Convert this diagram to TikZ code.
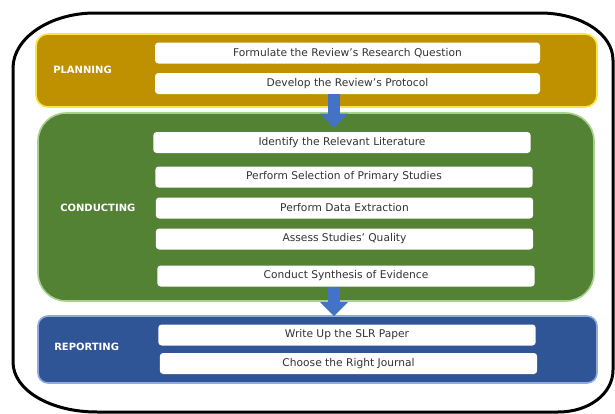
\documentclass[tikz,border=0pt]{standalone}
\usepackage{fontspec}
\setmainfont{DejaVu Sans}
\usetikzlibrary{arrows.meta}
\definecolor{planGold}{RGB}{191,144,0}
\definecolor{planGlow}{RGB}{250,228,70}
\definecolor{condGreen}{RGB}{84,130,53}
\definecolor{condGlow}{RGB}{169,209,142}
\definecolor{repBlue}{RGB}{47,85,151}
\definecolor{repGlow}{RGB}{143,170,220}
\definecolor{flowBlue}{RGB}{68,114,196}
\definecolor{taskText}{RGB}{51,51,51}

\begin{document}
\begin{tikzpicture}[x=0.75pt,y=0.75pt,yscale=-1,xscale=1,
    phase/.style={line width=1.2pt, inner sep=0pt},
    phaselabel/.style={anchor=west, inner sep=0.75pt, text=white, font=\fontsize{7.5}{9}\selectfont\bfseries},
    task/.style={fill=white, rounded corners=2.5pt, minimum width=283pt, minimum height=15.75pt, inner sep=0pt, text=taskText, font=\fontsize{8}{9.6}\selectfont},
    flow/.style={draw=flowBlue, line width=9pt, -{Triangle[width=20pt,length=10.5pt]}}]
        \useasboundingbox (0,0) rectangle (615,414);
        % outer frame
        \draw [line width=2.25pt] (13,68) .. controls (13,38) and (50,13) .. (95,13) -- (540,13) .. controls (581,13) and (613,34) .. (613,60) -- (613,370) .. controls (613,393) and (590,412) .. (558,412) -- (97,412) .. controls (50,412) and (13,390) .. (13,362) -- cycle ;
        % phases
        \draw (316.5,70.5) node [phase, fill=planGold, draw=planGlow, rounded corners=9pt, minimum width=420.75pt, minimum height=54.75pt] (planning) {};
        \draw (316,207) node [phase, fill=condGreen, draw=condGlow, rounded corners=21pt, minimum width=417pt, minimum height=141pt] (conducting) {};
        \draw (317.5,349.5) node [phase, fill=repBlue, draw=repGlow, rounded corners=7.5pt, minimum width=419.25pt, minimum height=50.25pt] (reporting) {};
        \draw (52,70) node [phaselabel] (planningLbl) {PLANNING};
        \draw (59,208) node [phaselabel] (conductingLbl) {CONDUCTING};
        \draw (53,347) node [phaselabel] (reportingLbl) {REPORTING};
        % steps
        \draw (347.5,53) node [task, minimum width=288.75pt] (formulate) {Formulate the Review’s Research Question};
        \draw (347.5,83.5) node [task, minimum width=288.75pt] (develop) {Develop the Review’s Protocol};
        \draw (342,142.5) node [task] (identify) {Identify the Relevant Literature};
        \draw (344,177) node [task] (selection) {Perform Selection of Primary Studies};
        \draw (344.5,208) node [task] (extraction) {Perform Data Extraction};
        \draw (344.5,239) node [task] (assess) {Assess Studies’ Quality};
        \draw (346,276) node [task] (synthesis) {Conduct Synthesis of Evidence};
        \draw (347,335) node [task] (writeup) {Write Up the SLR Paper};
        \draw (348.5,363.5) node [task] (journal) {Choose the Right Journal};
        % arrows between phases
        \coordinate (flowaxis) at (334,0);
        \draw [flow, shorten >=3pt] (flowaxis |- develop.south) -- (flowaxis |- identify.north);
        \draw [flow, shorten >=6pt] (flowaxis |- synthesis.south) -- (flowaxis |- writeup.north);
\end{tikzpicture}
\end{document}
